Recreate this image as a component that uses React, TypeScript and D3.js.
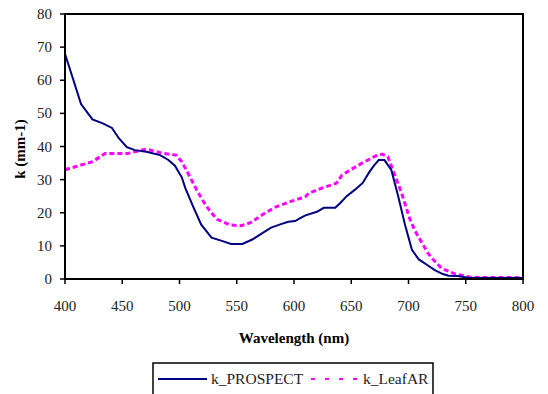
import React from "react";
import * as d3 from "d3";

const prospectWl = [400, 414, 424, 433, 441, 447, 454, 461, 471, 483, 490, 496, 502, 505, 512, 519, 528, 537, 545, 555, 564, 572, 580, 588, 595, 601, 605, 610, 620, 626, 636, 640, 646, 653, 660, 666, 670, 674, 679, 685, 691, 697, 703, 709, 716, 723, 730, 735, 743, 752, 760, 800];
const prospectK = [68, 52.8, 48.2, 47, 45.6, 42.5, 39.8, 38.9, 38.4, 37.4, 36, 34.2, 30.7, 27.5, 21.8, 16.4, 12.5, 11.5, 10.6, 10.6, 12, 13.8, 15.5, 16.5, 17.3, 17.5, 18.3, 19.2, 20.3, 21.5, 21.5, 22.8, 25, 26.9, 29, 32.4, 34.3, 35.9, 35.9, 32.9, 25, 16.3, 8.8, 5.9, 4.3, 2.7, 1.5, 1.0, 0.9, 0.4, 0.3, 0.3];

const leafarWl = [400, 403, 414, 420, 424, 435, 455, 462, 471, 486, 497, 502, 509, 515, 521, 527, 533, 544, 554, 562, 572, 583, 596, 601, 610, 613, 624, 637, 642, 649, 659, 671, 677, 682, 688, 694, 701, 706, 712, 717, 722, 729, 741, 755, 800];
const leafarK = [33, 33.3, 34.4, 35, 35.4, 37.9, 37.9, 38.5, 39.2, 37.9, 37.4, 35.4, 30.9, 26.9, 23.3, 20.3, 18.0, 16.3, 16.1, 17, 19.3, 21.6, 23.3, 23.8, 24.9, 25.9, 27.4, 28.9, 31.4, 32.9, 34.9, 37.1, 37.7, 36.9, 31.4, 25.9, 18.3, 14.3, 10.8, 7.8, 5.7, 3.2, 1.5, 0.5, 0.4];

const xTicks = [400, 450, 500, 550, 600, 650, 700, 750, 800];
const yTicks = [0, 10, 20, 30, 40, 50, 60, 70, 80];

const seriesNames = ["k_PROSPECT", "k_LeafAR"];
const xTitle = "Wavelength (nm)";
const yTitle = "k (mm-1)";

export default function App() {
  const W = 548, H = 394;
  const left = 65, right = 523, top = 14, bottom = 279;
  const x = d3.scaleLinear().domain([400, 800]).range([left, right]);
  const y = d3.scaleLinear().domain([0, 80]).range([bottom, top]);
  const line = d3.line<[number, number]>().x(d => x(d[0])).y(d => y(d[1]));
  const pData: [number, number][] = prospectWl.map((w, i) => [w, prospectK[i]]);
  const lData: [number, number][] = leafarWl.map((w, i) => [w, leafarK[i]]);
  const font = "'Liberation Serif', 'Times New Roman', serif";

  return (
    <svg width={W} height={H} style={{ position: "absolute", left: 0, top: 0, background: "#fff" }} fontFamily={font}>
      <rect x={0} y={0} width={W} height={H} fill="#fff" />
      {/* data lines */}
      <path d={line(lData) || ""} fill="none" stroke="#ff00ff" strokeWidth={3} strokeDasharray="5,3" />
      <path d={line(pData) || ""} fill="none" stroke="#000080" strokeWidth={2} />
      {/* frame */}
      <rect x={left} y={top} width={right - left} height={bottom - top} fill="none" stroke="#000" strokeWidth={2} />
      {/* y ticks */}
      {yTicks.map(t => (
        <g key={"y" + t}>
          <line x1={left - 5} x2={left} y1={y(t)} y2={y(t)} stroke="#000" strokeWidth={1.5} />
          <text x={52} y={y(t) + 5} textAnchor="end" fontSize={15} fill="#222">{t}</text>
        </g>
      ))}
      {/* x ticks */}
      {xTicks.map(t => (
        <g key={"x" + t}>
          <line x1={x(t)} x2={x(t)} y1={bottom} y2={bottom + 5} stroke="#000" strokeWidth={1.5} />
          <text x={x(t)} y={310.5} textAnchor="middle" fontSize={15} fill="#222">{t}</text>
        </g>
      ))}
      <text x={294} y={343} textAnchor="middle" fontSize={15} fontWeight="bold">{xTitle}</text>
      <text transform={`translate(25,149) rotate(-90)`} textAnchor="middle" fontSize={15} fontWeight="bold">{yTitle}</text>
      {/* legend */}
      <rect x={153} y={363} width={280} height={40} fill="#fff" stroke="#000" strokeWidth={1.5} />
      <line x1={158} x2={207} y1={379} y2={379} stroke="#000080" strokeWidth={2} />
      <text x={211} y={384.3} fontSize={15.5} fill="#222">{seriesNames[0]}</text>
      <line x1={311} x2={360} y1={379} y2={379} stroke="#ff00ff" strokeWidth={2} strokeDasharray="4,10" />
      <text x={363} y={384.3} fontSize={15.5} fill="#222">{seriesNames[1]}</text>
    </svg>
  );
}
